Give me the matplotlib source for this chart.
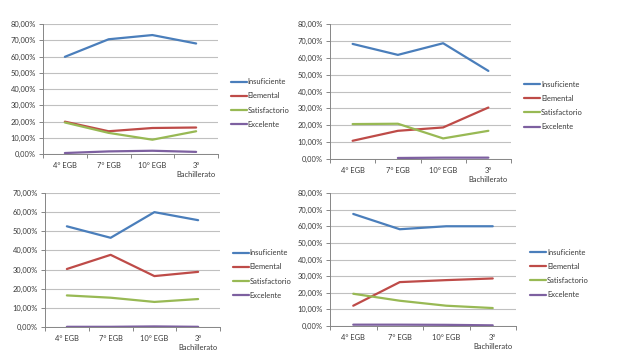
import numpy as np
import matplotlib
matplotlib.use("Agg")
import matplotlib.pyplot as plt
from matplotlib.ticker import FuncFormatter, MultipleLocator, FixedLocator

plt.rcParams['font.family'] = ['Lato', 'DejaVu Sans']

categories = ["4° EGB", "7° EGB", "10° EGB", "3°\nBachillerato"]
series_names = ["Insuficiente", "Elemental", "Satisfactorio", "Excelente"]
colors = ["#4A7EBB", "#BE4B48", "#98B954", "#7D60A0"]

# top-left
tl_insuficiente = [59.8, 70.6, 73.2, 68.0]
tl_elemental = [19.9, 14.0, 16.0, 16.3]
tl_satisfactorio = [19.4, 13.0, 8.8, 14.0]
tl_excelente = [0.6, 1.6, 2.0, 1.3]

# top-right
tr_insuficiente = [68.2, 61.7, 68.6, 52.2]
tr_elemental = [10.8, 16.7, 18.7, 30.5]
tr_satisfactorio = [20.7, 20.9, 12.2, 16.7]
tr_excelente = [np.nan, 0.6, 0.8, 0.8]

# bottom-left
bl_insuficiente = [52.6, 46.6, 60.0, 55.8]
bl_elemental = [30.3, 37.7, 26.6, 28.8]
bl_satisfactorio = [16.5, 15.3, 13.1, 14.6]
bl_excelente = [0.1, 0.1, 0.3, 0.1]

# bottom-right
br_insuficiente = [67.4, 58.2, 60.0, 60.0]
br_elemental = [12.2, 26.4, 27.6, 28.6]
br_satisfactorio = [19.4, 15.2, 12.2, 10.8]
br_excelente = [0.8, 0.8, 0.7, 0.4]

W, H = 626, 364
fig = plt.figure(figsize=(W / 100, H / 100), dpi=100)
FS = 5.4
TXT = "#3A3A3A"


def px_axes(left, top, right, bottom):
    return fig.add_axes([left / W, 1 - bottom / H, (right - left) / W, (bottom - top) / H])


def draw(ax, data, ymax, leg_x, leg_y):
    x = np.arange(len(categories))
    for vals, name, c in zip(data, series_names, colors):
        ax.plot(x, vals, color=c, lw=1.6, label=name, solid_capstyle="round")
    ax.set_xlim(-0.5, len(categories) - 0.5)
    ax.set_ylim(0, ymax)
    ax.yaxis.set_major_locator(MultipleLocator(10))
    ax.yaxis.set_major_formatter(FuncFormatter(lambda v, p: f"{v:.2f}%".replace(".", ",")))
    ax.set_xticks(x)
    ax.set_xticklabels(categories)
    ax.xaxis.set_minor_locator(FixedLocator(np.arange(-0.5, len(categories), 1.0)))
    ax.tick_params(axis="x", which="major", length=0, pad=6, labelsize=FS, labelcolor=TXT)
    ax.tick_params(axis="x", which="minor", length=3, color="#868686", width=0.7)
    ax.tick_params(axis="y", length=3, color="#868686", width=0.7, pad=2, labelsize=FS, labelcolor=TXT)
    for s in ["top", "right"]:
        ax.spines[s].set_visible(False)
    for s in ["left", "bottom"]:
        ax.spines[s].set_color("#868686")
        ax.spines[s].set_linewidth(0.7)
    ax.grid(axis="y", color="#C0C0C0", lw=0.8)
    ax.set_axisbelow(True)
    ax.legend(loc="center left", bbox_to_anchor=(leg_x / W, 1 - leg_y / H),
              bbox_transform=fig.transFigure, frameon=False, fontsize=FS,
              handlelength=2.1, handletextpad=0.15, labelspacing=0.95,
              borderpad=0, borderaxespad=0, labelcolor=TXT)


ax1 = px_axes(43, 24, 218, 154)
draw(ax1, [tl_insuficiente, tl_elemental, tl_satisfactorio, tl_excelente], 80, 231, 103)

ax2 = px_axes(330, 24, 511, 159)
draw(ax2, [tr_insuficiente, tr_elemental, tr_satisfactorio, tr_excelente], 80, 524, 105.5)

ax3 = px_axes(45, 193, 220, 327)
draw(ax3, [bl_insuficiente, bl_elemental, bl_satisfactorio, bl_excelente], 70, 233, 274)

ax4 = px_axes(330, 193, 516, 326)
draw(ax4, [br_insuficiente, br_elemental, br_satisfactorio, br_excelente], 80, 530, 273.5)

fig.savefig("out.png", dpi=100)
plt.close(fig)
